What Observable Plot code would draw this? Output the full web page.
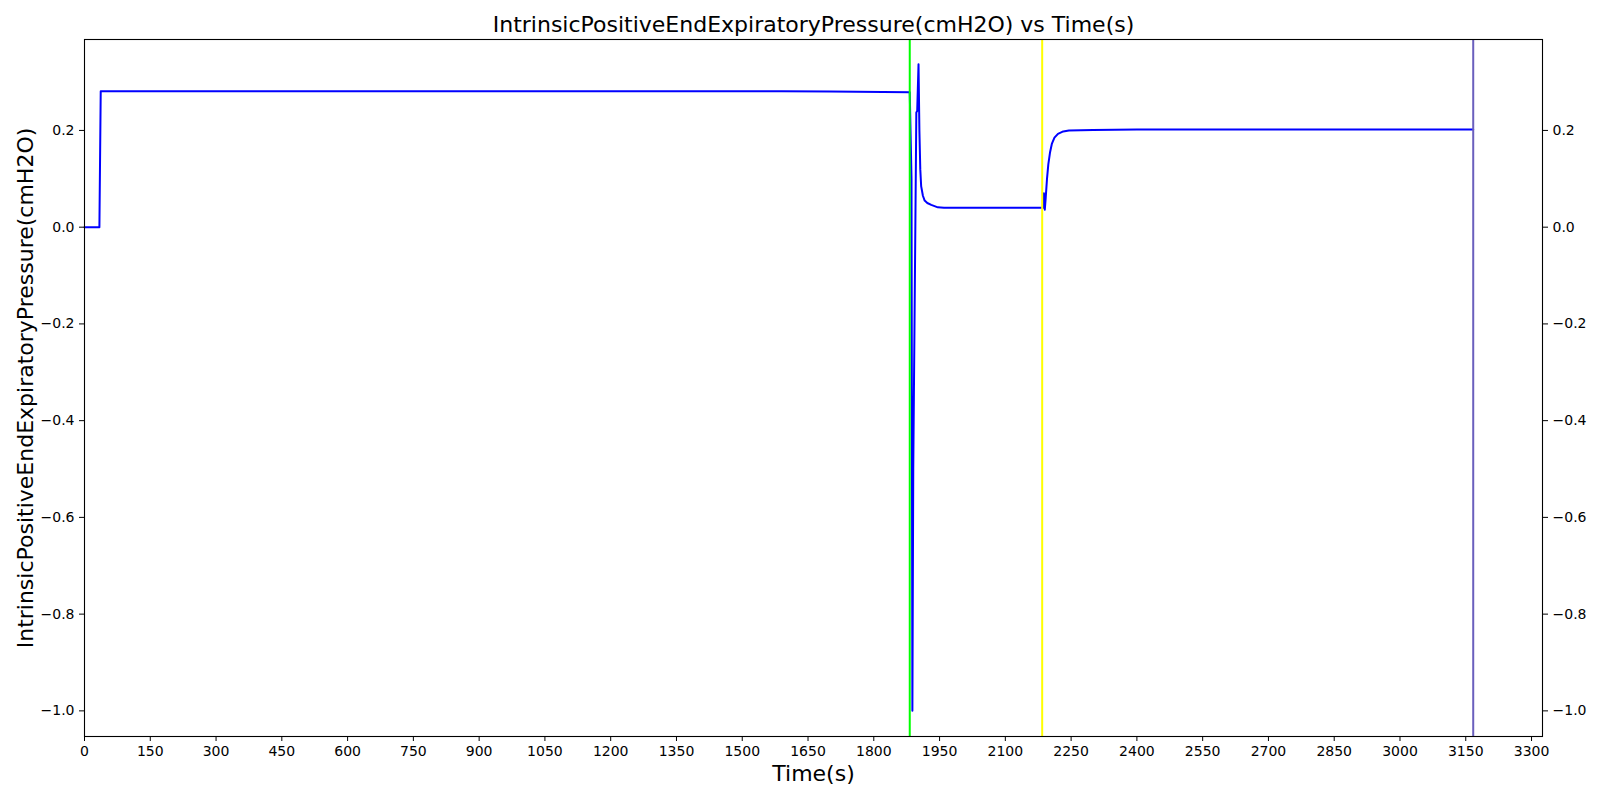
<!DOCTYPE html>
<html>
<head>
<meta charset="utf-8">
<script src="https://cdn.jsdelivr.net/npm/d3@7"></script>
<script src="https://cdn.jsdelivr.net/npm/@observablehq/plot@0.6"></script>
<style>
  html, body { margin: 0; padding: 0; background: #ffffff; }
  #chart { width: 1600px; height: 800px; }
</style>
</head>
<body>
<div id="chart"></div>
<script>
// ---- data ----
const times  = [0, 34, 37, 1590, 1700, 1882, 1886, 1888, 1890, 1897, 1899, 1902, 1904, 1906, 1908, 1912, 1916, 1922, 1931, 1946, 1960, 2187, 2188, 2189, 2190, 2192, 2195, 2198, 2202, 2206, 2212, 2220, 2232, 2245, 2300, 2400, 3167];
const values = [0, 0, 0.281, 0.281, 0.2805, 0.279, 0.1, -1.0, -0.5, 0.237, 0.24, 0.337, 0.2, 0.12, 0.085, 0.065, 0.055, 0.05, 0.046, 0.041, 0.040, 0.040, 0.07, 0.045, 0.036, 0.06, 0.10, 0.13, 0.155, 0.172, 0.185, 0.193, 0.198, 0.200, 0.201, 0.202, 0.202];
const eventTimes  = [1882, 2184, 3167];
const eventColors = ["#00ff00", "#ffff00", "#6a5fbd"];
const xTicks = [0,150,300,450,600,750,900,1050,1200,1350,1500,1650,1800,1950,2100,2250,2400,2550,2700,2850,3000,3150,3300];
const yTicks = [-1.0,-0.8,-0.6,-0.4,-0.2,0.0,0.2];
const titleText = "IntrinsicPositiveEndExpiratoryPressure(cmH2O) vs Time(s)";
const xLabel = "Time(s)";
const yLabel = "IntrinsicPositiveEndExpiratoryPressure(cmH2O)";

const series = times.map((t, i) => ({t, v: values[i]}));
const events = eventTimes.map((t, i) => ({t, c: eventColors[i]}));
const fmt = d3.format(".1f");

const chart = Plot.plot({
  width: 1600,
  height: 800,
  marginLeft: 84,
  marginRight: 58,
  marginTop: 39,
  marginBottom: 64,
  style: {fontFamily: "'DejaVu Sans', sans-serif", fontSize: "14px", background: "#ffffff", color: "#000"},
  x: {domain: [0, 3325]},
  y: {domain: [-1.053, 0.388]},
  marks: [
    Plot.line(series, {x: "t", y: "v", stroke: "#0000ff", strokeWidth: 2}),
    Plot.ruleX(events, {x: "t", stroke: "c", strokeWidth: 2}),
    Plot.frame({stroke: "#000", strokeWidth: 1.1}),
    Plot.axisX({ticks: xTicks, tickSize: 5, tickPadding: 5, label: null, fontSize: 14, tickFormat: d => String(d)}),
    Plot.axisY({ticks: yTicks, anchor: "left", tickSize: 5, tickPadding: 5, label: null, fontSize: 14, tickFormat: fmt}),
    Plot.axisY({ticks: yTicks, anchor: "right", tickSize: 5, tickPadding: 5, label: null, fontSize: 14, tickFormat: fmt}),
    Plot.text([titleText], {text: d => d, frameAnchor: "top", dy: -14.5, lineAnchor: "middle", fontSize: 22}),
    Plot.text([xLabel], {text: d => d, frameAnchor: "bottom", dy: 37.5, lineAnchor: "middle", fontSize: 22}),
    Plot.text([yLabel], {text: d => d, frameAnchor: "left", dx: -58.5, rotate: -90, lineAnchor: "middle", textAnchor: "middle", fontSize: 22})
  ]
});
document.getElementById("chart").appendChild(chart);
</script>
</body>
</html>
